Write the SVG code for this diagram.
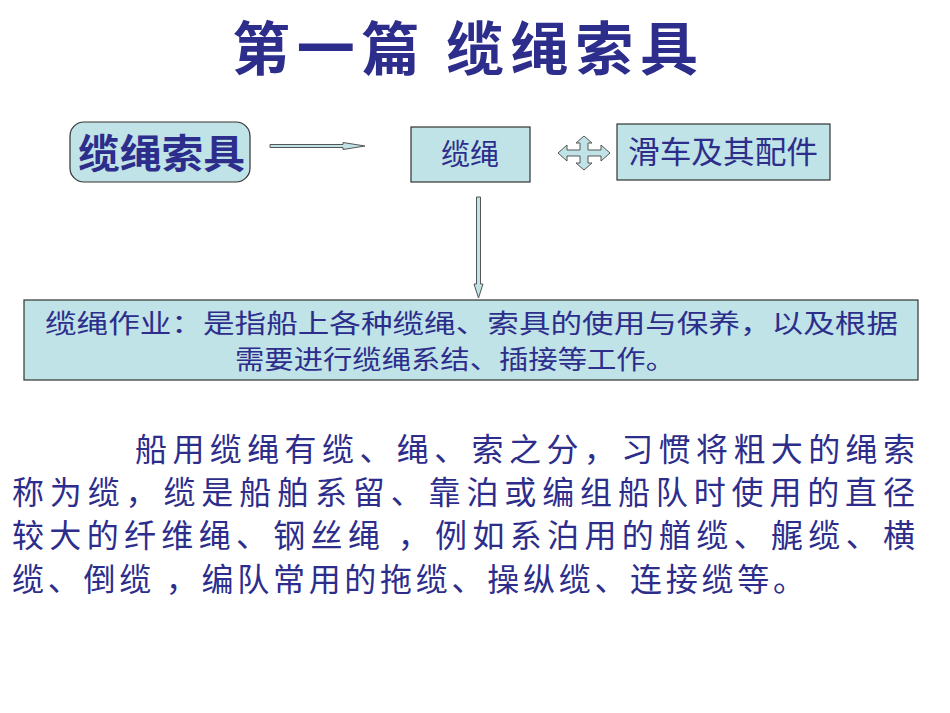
<svg xmlns="http://www.w3.org/2000/svg" width="950" height="713" viewBox="0 0 950 713">
<style>
.t{font-family:"Noto Sans CJK SC",sans-serif;fill:#2d2d8c}
.box{fill:#bfe3e6;stroke:#333;stroke-width:1.2}
.arr{fill:#bfe3e6;stroke:#555;stroke-width:1}
</style>
<rect width="950" height="713" fill="#fff"/>
<text class="t" x="232" y="70" font-size="58" font-weight="bold" textLength="466" lengthAdjust="spacing">第一篇  缆绳索具</text>
<g id="n1"><rect class="box" x="70" y="122" width="180" height="60" rx="14"/><text class="t" x="78" y="168" font-size="40" font-weight="bold" textLength="167" lengthAdjust="spacingAndGlyphs">缆绳索具</text></g>
<g id="n2"><rect class="box" x="411" y="127" width="119" height="55"/><text class="t" x="470" y="165" font-size="29" text-anchor="middle">缆绳</text></g>
<g id="n3"><rect class="box" x="617" y="124" width="213" height="56"/><text class="t" x="628" y="163" font-size="31" textLength="190" lengthAdjust="spacingAndGlyphs">滑车及其配件</text></g>
<g id="n4"><rect class="box" x="24" y="300" width="894" height="80"/>
<text class="t" x="45" y="333" font-size="26" textLength="853" lengthAdjust="spacingAndGlyphs">缆绳作业：是指船上各种缆绳、索具的使用与保养，以及根据</text>
<text class="t" x="235" y="369" font-size="26" textLength="440" lengthAdjust="spacingAndGlyphs">需要进行缆绳系结、插接等工作。</text></g>
<g id="connectors">
<path class="arr" d="M270 144.5 H343 V142.5 L365 146 L343 149.5 V147.5 H270 Z"/>
<path class="arr" d="M476.5 197 H480.5 V284 H483 L478.5 298 L474 284 H476.5 Z"/>
<path class="arr" d="M558 153 L567 145 V150 H580 V143 H576 L584 136 L592 143 H588 V150 H601 V145 L610 153 L601 161 V156 H588 V163 H592 L584 170 L576 163 H580 V156 H567 V161 Z"/>
</g>
<g class="t" font-size="32">
<text x="135" y="461" textLength="780" lengthAdjust="spacing">船用缆绳有缆、绳、索之分，习惯将粗大的绳索</text>
<text x="12" y="504" textLength="903" lengthAdjust="spacing">称为缆，缆是船舶系留、靠泊或编组船队时使用的直径</text>
<text x="12" y="547" textLength="903" lengthAdjust="spacing">较大的纤维绳、钢丝绳 ，例如系泊用的艏缆、艉缆、横</text>
<text x="12" y="591" textLength="793" lengthAdjust="spacing">缆、倒缆 ，编队常用的拖缆、操纵缆、连接缆等。</text>
</g>
</svg>
